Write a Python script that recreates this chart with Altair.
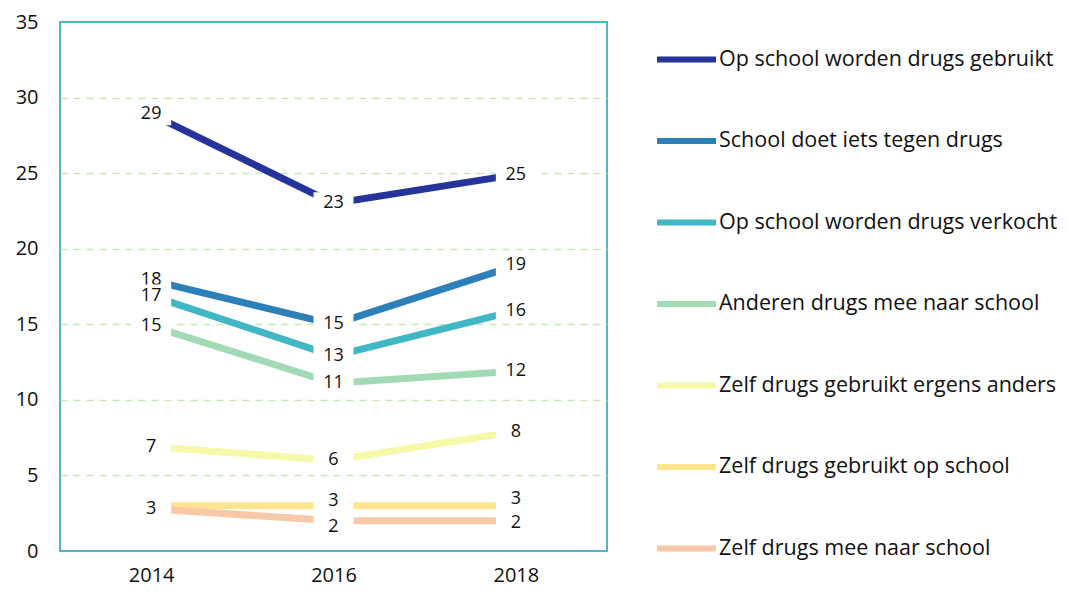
import altair as alt
import pandas as pd

years = ["2014", "2016", "2018"]
series = [
    "Op school worden drugs gebruikt",
    "School doet iets tegen drugs",
    "Op school worden drugs verkocht",
    "Anderen drugs mee naar school",
    "Zelf drugs gebruikt ergens anders",
    "Zelf drugs gebruikt op school",
    "Zelf drugs mee naar school",
]
colors = ["#25339a", "#2c7fb8", "#41b6c4", "#a1dab4", "#f5f9a8", "#fde48f", "#f8c8a8"]

v_gebruikt = [28.9, 23.0, 24.9]
v_tegen = [17.9, 15.0, 18.9]
v_verkocht = [16.9, 12.9, 15.9]
v_anderen = [14.9, 11.1, 11.9]
v_ergens = [6.9, 6.0, 7.9]
v_opschool = [3.0, 3.0, 3.0]
v_mee = [2.8, 2.0, 2.0]

l_gebruikt = ["29", "23", "25"]
l_tegen = ["18", "15", "19"]
l_verkocht = ["17", "13", "16"]
l_anderen = ["15", "11", "12"]
l_ergens = ["7", "6", "8"]
l_opschool = ["3", "3", "3"]
l_mee = ["3", "2", "2"]

y_ticks = [0, 5, 10, 15, 20, 25, 30, 35]

values = [v_gebruikt, v_tegen, v_verkocht, v_anderen, v_ergens, v_opschool, v_mee]
labels = [l_gebruikt, l_tegen, l_verkocht, l_anderen, l_ergens, l_opschool, l_mee]

# small label nudges (pixels) where the original moved labels apart
label_nudge = {("Zelf drugs gebruikt op school", "2016"): -5,
               ("Zelf drugs gebruikt op school", "2018"): -7,
               ("Zelf drugs mee naar school", "2016"): 6,
               ("Zelf drugs mee naar school", "2018"): 2}

rows = []
for s, vals, labs in zip(series, values, labels):
    for y, v, l in zip(years, vals, labs):
        rows.append({"serie": s, "jaar": y, "waarde": v, "label": l})
df = pd.DataFrame(rows)

FONT = "Open Sans"
x_scale = alt.Scale(type="point", padding=0.5)
y_scale = alt.Scale(domain=[0, 35], nice=False)

x_enc = alt.X("jaar:O", scale=x_scale,
              axis=alt.Axis(title=None, labelAngle=0, ticks=False, domain=False,
                            labelFontSize=20, labelColor="#111", labelPadding=14,
                            labelFont=FONT))
y_enc = alt.Y("waarde:Q", scale=y_scale,
              axis=alt.Axis(title=None, values=y_ticks, ticks=False, domain=False,
                            grid=True, gridDash=[7, 6], gridWidth=1.5,
                            gridColor={"condition": {"test": "datum.value == 0 || datum.value == 35",
                                                     "value": "transparent"},
                                       "value": "#c6e9b2"},
                            labelFontSize=20, labelColor="#111",
                            labelPadding=22, labelFont=FONT))

lines = alt.Chart(df).mark_line(strokeWidth=7, strokeCap="butt").encode(
    x=x_enc,
    y=y_enc,
    color=alt.Color("serie:N",
                    scale=alt.Scale(domain=series, range=colors),
                    sort=series,
                    legend=alt.Legend(title=None, orient="none", legendX=594, legendY=5,
                                      symbolType="stroke", symbolSize=3481,
                                      symbolStrokeWidth=6, labelOffset=0,
                                      labelFontSize=21.5, labelFont=FONT, labelColor="#111",
                                      rowPadding=36.5, padding=0, labelLimit=400)),
    detail="serie:N",
)

layers = [lines]
box_shape = "M-1,-0.55L1,-0.55L1,0.55L-1,0.55Z"
for s in series:
    for y in years:
        dy = label_nudge.get((s, y), 0)
        sub = alt.Chart(df).transform_filter(
            (alt.datum.serie == s) & (alt.datum.jaar == y)
        )
        box = sub.mark_point(shape=box_shape, filled=True, fill="white", opacity=1,
                             strokeWidth=0, size=1600, yOffset=dy).encode(
            x=alt.X("jaar:O", scale=x_scale), y=alt.Y("waarde:Q", scale=y_scale))
        txt = sub.mark_text(fontSize=18, font=FONT, color="#111", baseline="middle",
                            dy=dy).encode(
            x=alt.X("jaar:O", scale=x_scale), y=alt.Y("waarde:Q", scale=y_scale),
            text="label:N")
        layers += [box, txt]

chart = alt.layer(*layers).properties(
    width=547, height=529,
    background="white",
    autosize=alt.AutoSizeParams(type="none"),
    padding={"left": 52, "top": 14, "right": 453, "bottom": 35},
).configure_view(stroke="#4bb8c4", strokeWidth=2)

chart.save("out.html", embed_options={"renderer": "svg", "actions": False})
